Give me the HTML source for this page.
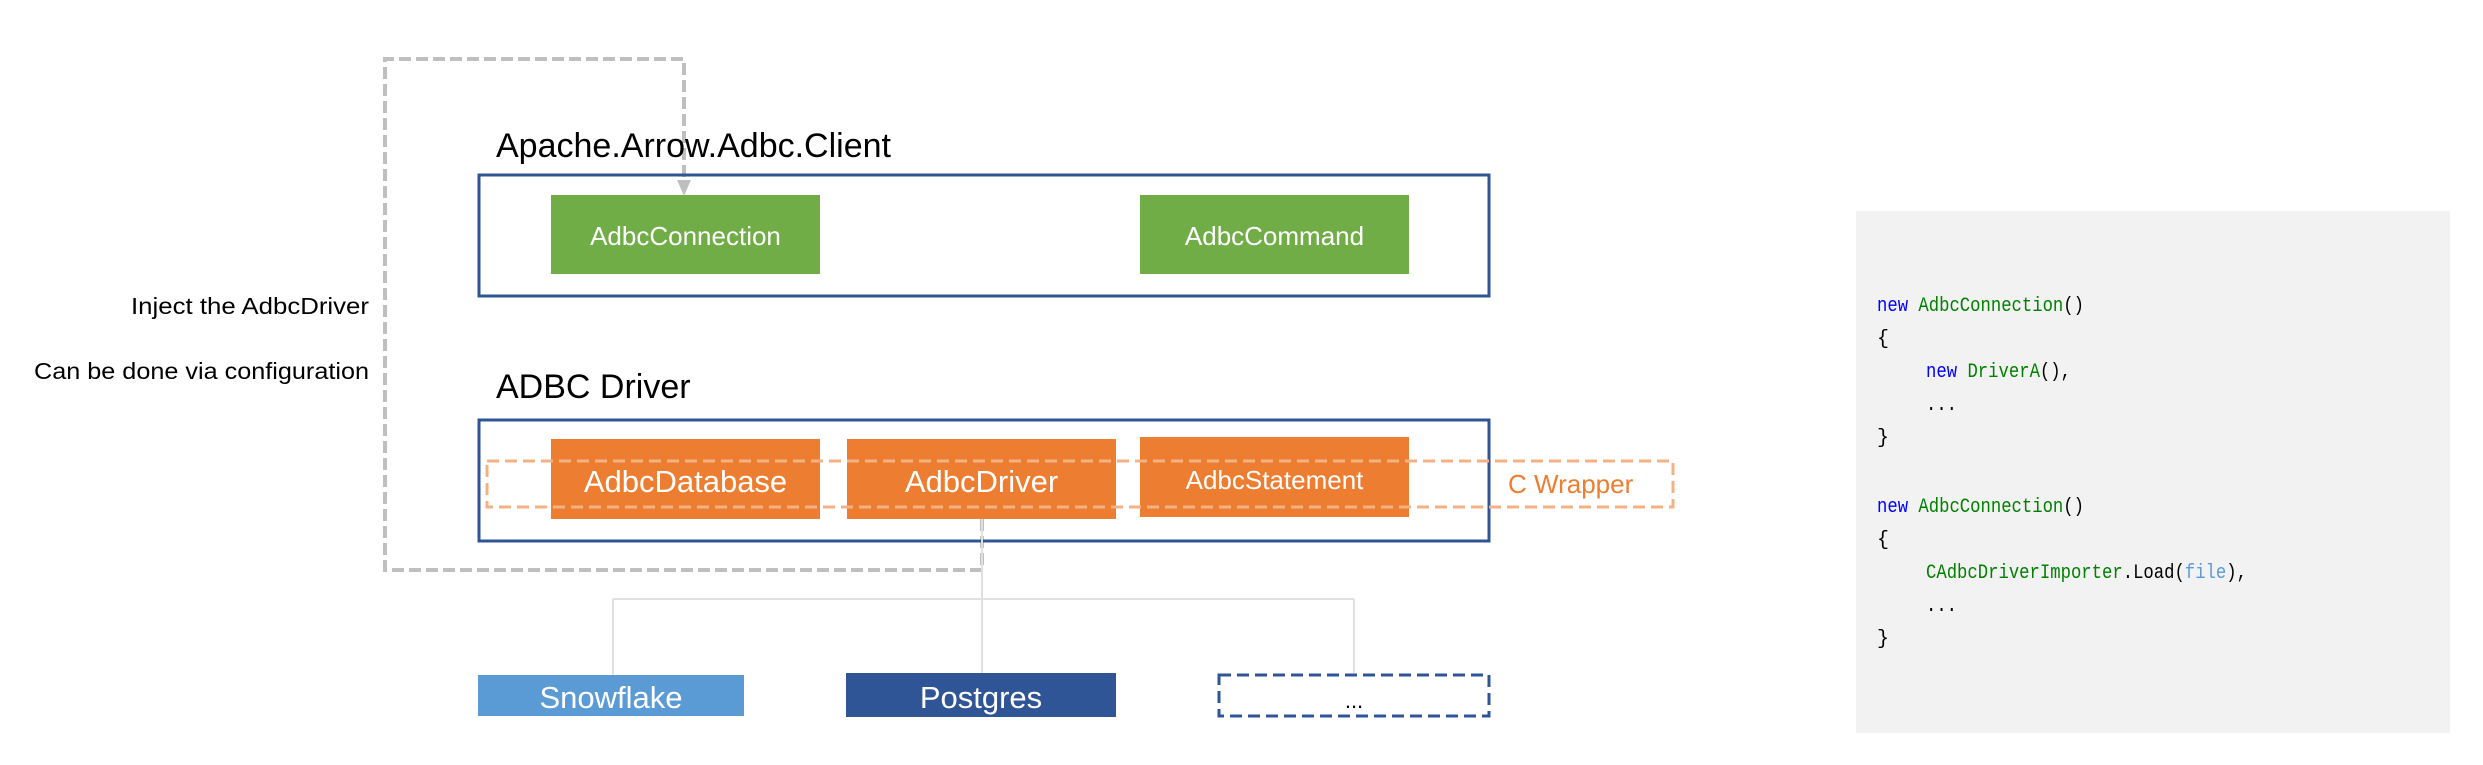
<!DOCTYPE html>
<html><head><meta charset="utf-8"><style>
html,body{margin:0;padding:0;background:#fff;width:2483px;height:765px;overflow:hidden}
</style></head><body>
<svg width="2483" height="765" viewBox="0 0 2483 765" xmlns="http://www.w3.org/2000/svg" font-family="Liberation Sans, sans-serif">
<path d="M982,519 L982,570 L385,570 L385,59 L684,59 L684,186" fill="none" stroke="#BFBFBF" stroke-width="4" stroke-dasharray="12,5"/>
<path d="M677,180 L691,180 L684,196 Z" fill="#BFBFBF"/>
<text x="496" y="157" font-size="34" fill="#000">Apache.Arrow.Adbc.Client</text>
<text x="496" y="398" font-size="34" fill="#000">ADBC Driver</text>
<text x="369" y="314" font-size="23" text-anchor="end" textLength="238" lengthAdjust="spacingAndGlyphs">Inject the AdbcDriver</text>
<text x="369" y="379" font-size="23" text-anchor="end" textLength="335" lengthAdjust="spacingAndGlyphs">Can be done via configuration</text>
<rect x="479" y="175" width="1010" height="121" fill="none" stroke="#2F5597" stroke-width="3"/>
<rect x="551" y="195" width="269" height="79" fill="#70AD47"/>
<rect x="1140" y="195" width="269" height="79" fill="#70AD47"/>
<text x="685.5" y="245" font-size="26" fill="#fff" text-anchor="middle">AdbcConnection</text>
<text x="1274.5" y="245" font-size="26" fill="#fff" text-anchor="middle">AdbcCommand</text>
<rect x="479" y="420" width="1010" height="121" fill="none" stroke="#2F5597" stroke-width="3"/>
<rect x="551" y="439" width="269" height="80" fill="#ED7D31"/>
<rect x="847" y="439" width="269" height="80" fill="#ED7D31"/>
<rect x="1140" y="437" width="269" height="80" fill="#ED7D31"/>
<text x="685.5" y="492" font-size="31" fill="#fff" text-anchor="middle">AdbcDatabase</text>
<text x="981.5" y="492" font-size="31" fill="#fff" text-anchor="middle">AdbcDriver</text>
<text x="1274.5" y="489" font-size="26" fill="#fff" text-anchor="middle">AdbcStatement</text>
<rect x="487" y="461" width="1186" height="46" fill="none" stroke="#F4B183" stroke-width="3" stroke-dasharray="12,6"/>
<text x="1508" y="493" font-size="26" fill="#ED7D31">C Wrapper</text>
<path d="M982,519 L982,673 M613,599 L1354,599 M613,599 L613,675 M1354,599 L1354,673" fill="none" stroke="#E0E0E0" stroke-width="2"/>
<rect x="478" y="675" width="266" height="41" fill="#5B9BD5"/>
<rect x="846" y="673" width="270" height="44" fill="#2F5597"/>
<rect x="1219" y="675" width="270" height="41" fill="#fff" stroke="#2F5597" stroke-width="3" stroke-dasharray="12,6"/>
<text x="611" y="708" font-size="31" fill="#fff" text-anchor="middle">Snowflake</text>
<text x="981" y="708" font-size="31" fill="#fff" text-anchor="middle">Postgres</text>
<text x="1354" y="708" font-size="22" fill="#000" text-anchor="middle">...</text>
<rect x="1856" y="211" width="594" height="522" fill="#F2F2F2"/>
<g font-family="Liberation Mono, monospace" font-size="20" lengthAdjust="spacingAndGlyphs">
<text x="1877" y="311" textLength="207" lengthAdjust="spacingAndGlyphs"><tspan fill="#0000FF">new</tspan> <tspan fill="#008000">AdbcConnection</tspan><tspan fill="#000">()</tspan></text>
<text x="1877" y="344" fill="#000">{</text>
<text x="1926" y="377" textLength="145" lengthAdjust="spacingAndGlyphs"><tspan fill="#0000FF">new</tspan> <tspan fill="#008000">DriverA</tspan><tspan fill="#000">(),</tspan></text>
<text x="1926" y="410" fill="#000" textLength="31" lengthAdjust="spacingAndGlyphs">...</text>
<text x="1877" y="443" fill="#000">}</text>
<text x="1877" y="512" textLength="207" lengthAdjust="spacingAndGlyphs"><tspan fill="#0000FF">new</tspan> <tspan fill="#008000">AdbcConnection</tspan><tspan fill="#000">()</tspan></text>
<text x="1877" y="545" fill="#000">{</text>
<text x="1926" y="578" textLength="321" lengthAdjust="spacingAndGlyphs"><tspan fill="#008000">CAdbcDriverImporter</tspan><tspan fill="#000">.Load(</tspan><tspan fill="#5B9BD5">file</tspan><tspan fill="#000">),</tspan></text>
<text x="1926" y="611" fill="#000" textLength="31" lengthAdjust="spacingAndGlyphs">...</text>
<text x="1877" y="644" fill="#000">}</text>
</g>
</svg>
</body></html>
